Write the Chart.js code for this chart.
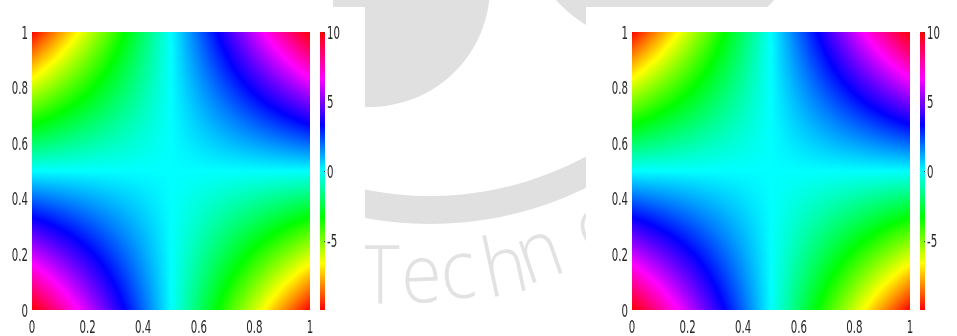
<!DOCTYPE html>
<html>
<head>
<meta charset="utf-8">
<script src="https://cdn.jsdelivr.net/npm/chart.js@4.4.1/dist/chart.umd.min.js"></script>
<style>
  html, body { margin: 0; padding: 0; background: #fff; width: 957px; height: 336px; overflow: hidden; }
  body { position: relative; }
  #wm { position: absolute; left: 0; top: 0; }
  .panel { position: absolute; background: #fff; }
  #panelL { left: 0; top: 7px; width: 365px; height: 329px; }
  #panelR { left: 586px; top: 7px; width: 371px; height: 329px; }
  .chart { position: absolute; top: 0; }
  #chartL { left: 0; }
  #chartR { left: 600px; }
</style>
</head>
<body>
<canvas id="wm" width="957" height="336"></canvas>
<div class="panel" id="panelL"></div>
<div class="panel" id="panelR"></div>
<canvas id="chartL" class="chart" width="357" height="336"></canvas>
<canvas id="chartR" class="chart" width="357" height="336"></canvas>
<script>
// Sample positions of the field along x and y
const gridX = [0, 0.1, 0.2, 0.3, 0.4, 0.5, 0.6, 0.7, 0.8, 0.9, 1];
const gridY = [0, 0.1, 0.2, 0.3, 0.4, 0.5, 0.6, 0.7, 0.8, 0.9, 1];

// Field values; row j is at y = gridY[j], column i at x = gridX[i]
const fieldRows = [
  [ 10,   8,   6,   4,   2, 0,  -2,  -4,  -6,  -8, -10],
  [  8, 6.4, 4.8, 3.2, 1.6, 0, -1.6, -3.2, -4.8, -6.4, -8],
  [  6, 4.8, 3.6, 2.4, 1.2, 0, -1.2, -2.4, -3.6, -4.8, -6],
  [  4, 3.2, 2.4, 1.6, 0.8, 0, -0.8, -1.6, -2.4, -3.2, -4],
  [  2, 1.6, 1.2, 0.8, 0.4, 0, -0.4, -0.8, -1.2, -1.6, -2],
  [  0,   0,   0,   0,   0, 0,    0,    0,    0,    0,  0],
  [ -2, -1.6, -1.2, -0.8, -0.4, 0, 0.4, 0.8, 1.2, 1.6, 2],
  [ -4, -3.2, -2.4, -1.6, -0.8, 0, 0.8, 1.6, 2.4, 3.2, 4],
  [ -6, -4.8, -3.6, -2.4, -1.2, 0, 1.2, 2.4, 3.6, 4.8, 6],
  [ -8, -6.4, -4.8, -3.2, -1.6, 0, 1.6, 3.2, 4.8, 6.4, 8],
  [-10,  -8,  -6,  -4,  -2, 0,   2,   4,   6,   8,  10]
];

// Axis ticks
const xTickValues = [0, 0.2, 0.4, 0.6, 0.8, 1];
const xTickLabels = ['0', '0.2', '0.4', '0.6', '0.8', '1'];
const yTickValues = [0, 0.2, 0.4, 0.6, 0.8, 1];
const yTickLabels = ['0', '0.2', '0.4', '0.6', '0.8', '1'];

// Colour bar range and ticks
const colorMin = -10;
const colorMax = 10;
const cbTickValues = [10, 5, 0, -5];
const cbTickLabels = ['10', '5', '0', '-5'];

const TEXT_COLOR = '#262626';
const FONT = '17px "DejaVu Sans"';
const NARROW = 0.6;

// hsv colour map: red -> yellow -> green -> cyan -> blue -> magenta -> red
function hsvColor(v) {
  let t = (v - colorMin) / (colorMax - colorMin);
  t = Math.min(1, Math.max(0, t));
  const h = t * 6;
  const i = Math.floor(h) % 6;
  const f = h - Math.floor(h);
  const q = 1 - f;
  let r, g, b;
  switch (i) {
    case 0: r = 1; g = f; b = 0; break;
    case 1: r = q; g = 1; b = 0; break;
    case 2: r = 0; g = 1; b = f; break;
    case 3: r = 0; g = q; b = 1; break;
    case 4: r = f; g = 0; b = 1; break;
    default: r = 1; g = 0; b = q; break;
  }
  return [Math.round(r * 255), Math.round(g * 255), Math.round(b * 255)];
}

function cellIndex(arr, val) {
  for (let k = 0; k < arr.length - 2; k++) {
    if (val <= arr[k + 1]) return k;
  }
  return arr.length - 2;
}

// Interpolated shading inside each grid cell
function fieldAt(xv, yv) {
  const i = cellIndex(gridX, xv);
  const j = cellIndex(gridY, yv);
  let u = (xv - gridX[i]) / (gridX[i + 1] - gridX[i]);
  let w = (yv - gridY[j]) / (gridY[j + 1] - gridY[j]);
  u = Math.min(1, Math.max(0, u));
  w = Math.min(1, Math.max(0, w));
  const a = fieldRows[j][i], b = fieldRows[j][i + 1];
  const c = fieldRows[j + 1][i], d = fieldRows[j + 1][i + 1];
  return (a * (1 - u) + b * u) * (1 - w) + (c * (1 - u) + d * u) * w;
}

const fieldPlugin = {
  id: 'field',
  beforeDatasetsDraw(chart) {
    const { ctx, chartArea: area, scales } = chart;
    const xs = scales.x, ys = scales.y, cb = scales.cb;
    const x0 = Math.round(area.left), x1 = Math.round(area.right);
    const y0 = Math.round(area.top), y1 = Math.round(area.bottom);
    const w = x1 - x0, h = y1 - y0;
    const img = ctx.createImageData(w, h);
    for (let py = 0; py < h; py++) {
      const yv = ys.getValueForPixel(y0 + py + 0.5);
      for (let px = 0; px < w; px++) {
        const xv = xs.getValueForPixel(x0 + px + 0.5);
        const [r, g, b] = hsvColor(fieldAt(xv, yv));
        const k = (py * w + px) * 4;
        img.data[k] = r; img.data[k + 1] = g; img.data[k + 2] = b; img.data[k + 3] = 255;
      }
    }
    ctx.putImageData(img, x0, y0);

    // colour bar
    const barLeft = x1 + 10, barWidth = 5;
    const top = Math.round(cb.getPixelForValue(colorMax));
    const bottom = Math.round(cb.getPixelForValue(colorMin));
    for (let py = top; py < bottom; py++) {
      const [r, g, b] = hsvColor(cb.getValueForPixel(py + 0.5));
      ctx.fillStyle = `rgb(${r},${g},${b})`;
      ctx.fillRect(barLeft, py, barWidth, 1);
    }
    ctx.fillStyle = '#333';
    cbTickValues.forEach(v => {
      const py = Math.round(cb.getPixelForValue(v));
      ctx.fillRect(barLeft + barWidth - 1, py, 1, 1);
    });
  }
};

function narrowText(ctx, text, x, y, align) {
  ctx.save();
  ctx.translate(x, y);
  ctx.scale(NARROW, 1);
  ctx.textAlign = align;
  ctx.textBaseline = 'alphabetic';
  ctx.fillText(text, 0, 0);
  ctx.restore();
}

const labelPlugin = {
  id: 'labels',
  afterDraw(chart) {
    const { ctx, chartArea: area, scales } = chart;
    ctx.save();
    ctx.font = FONT;
    ctx.fillStyle = TEXT_COLOR;
    xTickValues.forEach((v, k) => {
      narrowText(ctx, xTickLabels[k], scales.x.getPixelForValue(v), area.bottom + 23, 'center');
    });
    yTickValues.forEach((v, k) => {
      narrowText(ctx, yTickLabels[k], area.left - 4, scales.y.getPixelForValue(v) + 6.5, 'right');
    });
    cbTickValues.forEach((v, k) => {
      narrowText(ctx, cbTickLabels[k], area.right + 17, scales.cb.getPixelForValue(v) + 6.5, 'left');
    });
    ctx.restore();
  }
};

function buildPoints() {
  const pts = [];
  gridY.forEach((yv, j) => gridX.forEach((xv, i) => pts.push({ x: xv, y: yv, v: fieldRows[j][i] })));
  return pts;
}

function makeChart(id) {
  return new Chart(document.getElementById(id), {
    type: 'scatter',
    data: { datasets: [{ data: buildPoints(), pointRadius: 0, showLine: false }] },
    options: {
      responsive: false,
      animation: false,
      devicePixelRatio: 1,
      events: [],
      layout: { padding: { left: 32, top: 32, right: 47, bottom: 26 } },
      plugins: { legend: { display: false }, tooltip: { enabled: false } },
      scales: {
        x: { type: 'linear', min: 0, max: 1, display: false },
        y: { type: 'linear', min: 0, max: 1, display: false },
        cb: { type: 'linear', position: 'right', min: colorMin, max: colorMax, display: false }
      }
    },
    plugins: [fieldPlugin, labelPlugin]
  });
}

// Faint logo mark behind the panels
function drawBackdrop() {
  const c = document.getElementById('wm');
  const ctx = c.getContext('2d');
  ctx.save();
  ctx.beginPath();
  ctx.rect(333, 0, 624, 336);
  ctx.clip();
  ctx.fillStyle = '#e0e0e0';
  // upper-left lobe
  ctx.beginPath();
  ctx.moveTo(333, 0);
  ctx.lineTo(489, 0);
  ctx.arc(370, -13, 120, Math.atan2(13, 119), Math.atan2(120, -5), false);
  ctx.lineTo(333, 107);
  ctx.closePath();
  ctx.fill();
  // upper-right lobe
  ctx.beginPath();
  ctx.arc(665, -100, 148, 0, Math.PI * 2);
  ctx.fill();
  // sweeping arc
  ctx.beginPath();
  ctx.arc(430, -131, 355, 0, Math.PI * 2);
  ctx.arc(430, -131, 327, 0, Math.PI * 2, true);
  ctx.fill('evenodd');
  // lettering
  ctx.fillStyle = '#e2e2e2';
  ctx.font = '300 82px "Open Sans"';
  ctx.textBaseline = 'alphabetic';
  const letters = [
    ['T', 361, 303, 0], ['e', 402, 303, -2], ['c', 443, 300, -6],
    ['h', 489, 298, -12], ['n', 527, 285, -19], ['o', 591, 260, -28]
  ];
  letters.forEach(([ch, x, y, deg]) => {
    ctx.save();
    ctx.translate(x, y);
    ctx.rotate(deg * Math.PI / 180);
    ctx.scale(0.9, 1);
    ctx.fillText(ch, 0, 0);
    ctx.restore();
  });
  ctx.restore();
}

drawBackdrop();
makeChart('chartL');
makeChart('chartR');
</script>
</body>
</html>
